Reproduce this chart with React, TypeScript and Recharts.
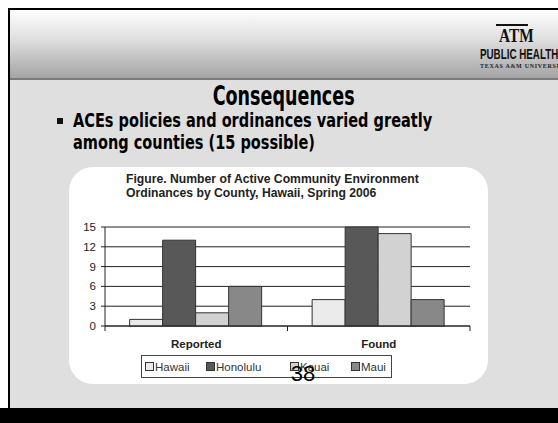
import React from 'react';
import { BarChart, Bar, XAxis, YAxis, CartesianGrid } from 'recharts';

// chart values
const categories = ['Reported', 'Found'];
const hawaii = [1, 4];
const honolulu = [13, 15];
const kauai = [2, 14];
const maui = [6, 4];
const yTicks = [0, 3, 6, 9, 12, 15];

const series = [
  { key: 'Hawaii', values: hawaii, fill: '#ebebeb' },
  { key: 'Honolulu', values: honolulu, fill: '#585858' },
  { key: 'Kauai', values: kauai, fill: '#d2d2d2' },
  { key: 'Maui', values: maui, fill: '#888888' },
];

const data = categories.map((name, i) => {
  const row: any = { name };
  series.forEach((s) => {
    row[s.key] = s.values[i];
  });
  return row;
});

const W = 558;
const H = 423;
const PLOT_LEFT = 105;
const PLOT_RIGHT = 470;
const PLOT_TOP = 227;
const PLOT_BOTTOM = 326;
const Y_AXIS_W = 40;
const X_AXIS_H = 30;
const BAND = (PLOT_RIGHT - PLOT_LEFT) / categories.length;

const impact = "'DejaVu Sans Condensed', 'DejaVu Sans', sans-serif";
const arial = "'Liberation Sans', Arial, sans-serif";

// legend swatch offsets inside the legend box
const legendLeft = [3, 64, 148, 209];

const CategoryTick = (props: any) => {
  const { x, y, payload, index } = props;
  return (
    <g>
      <text x={x} y={y + 22} textAnchor="middle" fontFamily={arial} fontWeight="bold" fontSize={11.5} fill="#222">
        {payload.value}
      </text>
      <line x1={x - BAND / 2} x2={x - BAND / 2} y1={y} y2={y + 5} stroke="#222" />
      {index === categories.length - 1 && (
        <line x1={x + BAND / 2} x2={x + BAND / 2} y1={y} y2={y + 5} stroke="#222" />
      )}
    </g>
  );
};

export default function App() {
  return (
    <div style={{ position: 'absolute', left: 0, top: 0, width: W, height: H, overflow: 'hidden', background: '#fff' }}>
      {/* slide frame */}
      <div style={{ position: 'absolute', left: 8, top: 8, width: 560, height: 402, background: '#000' }} />
      <div style={{ position: 'absolute', left: 10, top: 10, width: 560, height: 398, background: '#dfdfdf' }} />
      <div
        style={{
          position: 'absolute',
          left: 10,
          top: 10,
          width: 560,
          height: 68,
          background: 'linear-gradient(#fdfdfd, #e2e2e2 40%, #a4a4a4)',
        }}
      />
      <div style={{ position: 'absolute', left: 10, top: 78, width: 560, height: 2, background: '#7a7a7a' }} />
      <div style={{ position: 'absolute', left: 0, top: 408, width: W, height: 15, background: '#000' }} />

      {/* logo */}
      <div style={{ position: 'absolute', left: 496, top: 24, width: 32, textAlign: 'center', fontFamily: "'Liberation Serif', serif", fontWeight: 'bold', fontSize: 18, color: '#111', lineHeight: '20px', borderTop: '2px solid #111' }}>
        <span style={{ display: 'inline-block', transform: 'scaleX(0.85)' }}>ATM</span>
      </div>
      <div style={{ position: 'absolute', left: 480, top: 46, fontFamily: arial, fontWeight: 'bold', fontSize: 14, color: '#111', whiteSpace: 'nowrap', transform: 'scaleX(0.7)', transformOrigin: 'left' }}>
        PUBLIC HEALTH
      </div>
      <div style={{ position: 'absolute', left: 480, top: 63, fontFamily: "'Liberation Serif', serif", fontWeight: 'bold', fontSize: 6, color: '#222', whiteSpace: 'nowrap', letterSpacing: 0.7 }}>
        TEXAS A&amp;M UNIVERSITY
      </div>

      {/* slide text */}
      <div style={{ position: 'absolute', left: 0, width: 568, top: 82, textAlign: 'center', fontFamily: impact, fontWeight: 'bold', fontSize: 26, color: '#000', lineHeight: '28px' }}>
        <span style={{ display: 'inline-block', transform: 'scaleX(0.75)' }}>Consequences</span>
      </div>
      <div style={{ position: 'absolute', left: 57, top: 118, width: 6, height: 6, background: '#111' }} />
      <div style={{ position: 'absolute', left: 73, top: 109, width: 600, fontFamily: impact, fontWeight: 'bold', fontSize: 19, color: '#000', lineHeight: '22px', transform: 'scaleX(0.85)', transformOrigin: 'left' }}>
        ACEs policies and ordinances varied greatly
        <br />
        among counties (15 possible)
      </div>

      {/* chart panel */}
      <div style={{ position: 'absolute', left: 69, top: 167, width: 419, height: 217, background: '#fff', borderRadius: 24 }} />
      <div style={{ position: 'absolute', left: 126, top: 173, fontFamily: arial, fontWeight: 'bold', fontSize: 12.2, color: '#222', lineHeight: '13.5px', whiteSpace: 'nowrap' }}>
        Figure. Number of Active Community Environment
        <br />
        Ordinances by County, Hawaii, Spring 2006
      </div>

      <div style={{ position: 'absolute', left: 0, top: 0 }}>
        <BarChart
          width={W}
          height={H}
          data={data}
          barGap={0}
          barCategoryGap="13.5%"
          margin={{ top: PLOT_TOP, right: W - PLOT_RIGHT, bottom: H - PLOT_BOTTOM - X_AXIS_H, left: PLOT_LEFT - Y_AXIS_W }}
        >
          <CartesianGrid vertical={false} stroke="#222" strokeOpacity={1} />
          <XAxis
            dataKey="name"
            height={X_AXIS_H}
            axisLine={{ stroke: '#222' }}
            tickLine={false}
            tickSize={0}
            tickMargin={0}
            tick={<CategoryTick />}
            interval={0}
          />
          <YAxis
            width={Y_AXIS_W}
            domain={[0, 15]}
            ticks={yTicks}
            interval={0}
            axisLine={{ stroke: '#222' }}
            tickLine={{ stroke: '#222' }}
            tickSize={4}
            tickMargin={5}
            tick={{ fontSize: 11.5, fill: '#222', fontFamily: arial }}
          />
          {series.map((s) => (
            <Bar key={s.key} dataKey={s.key} fill={s.fill} stroke="#333" strokeWidth={1} isAnimationActive={false} />
          ))}
        </BarChart>
      </div>

      {/* legend */}
      <div
        style={{
          position: 'absolute',
          left: 141,
          top: 355,
          width: 249,
          height: 21,
          border: '1.5px solid #444',
          fontFamily: arial,
          fontSize: 11.5,
          color: '#333',
          background: '#fff',
        }}
      >
        {series.map((s, i) => (
          <div key={s.key} style={{ position: 'absolute', left: legendLeft[i], top: 0, height: 21, display: 'flex', alignItems: 'center' }}>
            <span style={{ display: 'inline-block', width: 7, height: 7, background: s.fill, border: '1px solid #333', marginRight: 1 }} />
            {s.key}
          </div>
        ))}
      </div>

      <div style={{ position: 'absolute', left: 283, top: 361, width: 40, textAlign: 'center', fontFamily: arial, fontSize: 22, color: '#000', lineHeight: '26px' }}>
        38
      </div>
    </div>
  );
}
